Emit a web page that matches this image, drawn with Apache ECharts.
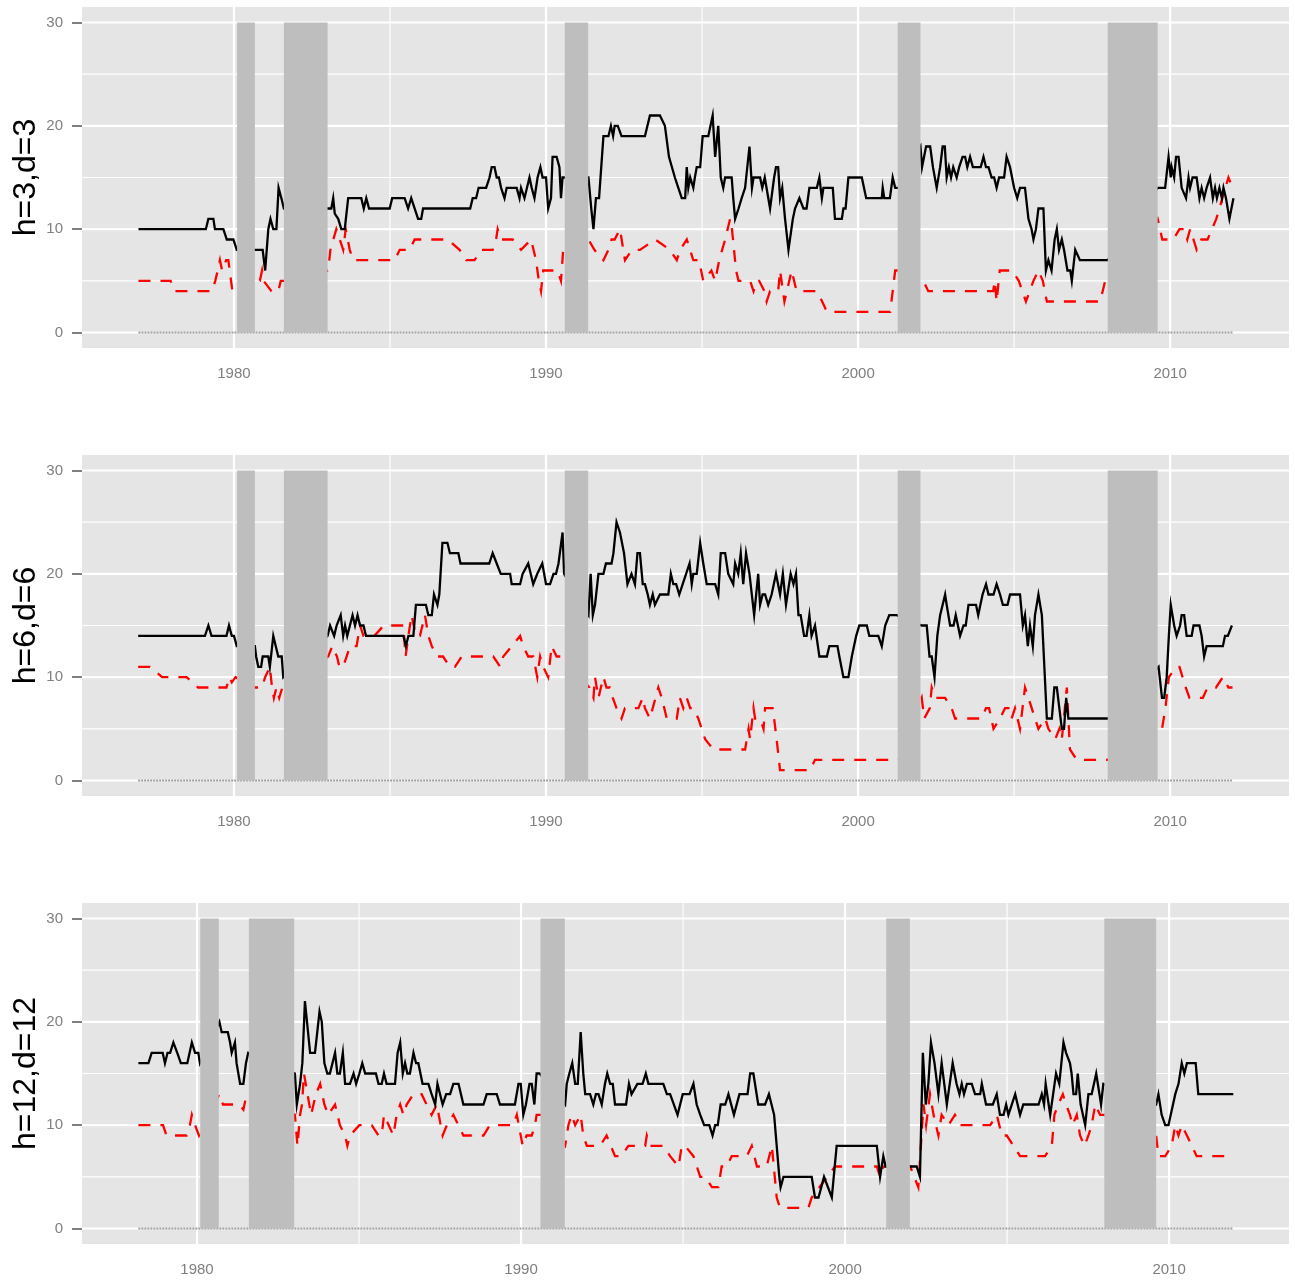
<!DOCTYPE html>
<html>
<head>
<meta charset="utf-8">
<script src="https://cdn.jsdelivr.net/npm/echarts@6/dist/echarts.min.js"></script>
<style>html,body{margin:0;padding:0;background:#fff}#c{width:1295px;height:1281px}</style>
</head>
<body>
<div id="c"></div>
<script>
// ---------- data ----------
const panelNames = ['h=3,d=3', 'h=6,d=6', 'h=12,d=12'];
const yTicks = [0, 10, 20, 30];
const yMinor = [5, 15, 25];
const xTicks = [1980, 1990, 2000, 2010];
const xMinor = [1985, 1995, 2005];
const recStart = [1980.1, 1981.6, 1990.6, 2001.27, 2008.0];
const recEnd = [1980.67, 1983.0, 1991.35, 2002.0, 2009.6];
const recTop = 30, recBottom = 0;

const h3Black = [[1976.94,10],[1979.1,10],[1979.18,11],[1979.34,11],[1979.39,10],[1979.66,10],[1979.77,9],[1979.98,9],[1980.09,8],[1980.67,8],[1980.92,8],[1981.0,6],[1981.1,10],[1981.17,11],[1981.26,10],[1981.36,10],[1981.43,14],[1981.52,13],[1981.6,12],[1983.02,12],[1983.12,12],[1983.18,13],[1983.23,11.5],[1983.34,11],[1983.44,10],[1983.55,10],[1983.66,13],[1984.08,13],[1984.16,12],[1984.24,13],[1984.33,12],[1984.99,12],[1985.07,13],[1985.47,13],[1985.58,12],[1985.68,13],[1985.9,11],[1986.0,11],[1986.06,12],[1987.57,12],[1987.65,13],[1987.76,13],[1987.84,14],[1988.08,14],[1988.19,15],[1988.26,16],[1988.35,16],[1988.42,15],[1988.49,15],[1988.56,14],[1988.67,13],[1988.74,14],[1989.06,14],[1989.15,13],[1989.2,14],[1989.31,13],[1989.39,14],[1989.47,15],[1989.54,14],[1989.63,13],[1989.73,15],[1989.82,16],[1989.89,15],[1990.0,15],[1990.07,12],[1990.16,13],[1990.21,17],[1990.34,17],[1990.43,16],[1990.48,13],[1990.53,15],[1990.6,15],[1991.36,15],[1991.4,15],[1991.45,12],[1991.52,10],[1991.6,13],[1991.7,13],[1991.84,19],[1992.0,19],[1992.08,20],[1992.15,19],[1992.2,20],[1992.3,20],[1992.42,19],[1993.17,19],[1993.33,21],[1993.65,21],[1993.81,20],[1993.94,17],[1994.13,15],[1994.24,14],[1994.35,13],[1994.46,13],[1994.51,16],[1994.56,14],[1994.62,15],[1994.72,14],[1994.77,15],[1994.83,16],[1994.94,16],[1995.02,19],[1995.2,19],[1995.34,21],[1995.42,17],[1995.52,20],[1995.6,15],[1995.68,14],[1995.74,15],[1995.95,15],[1996.0,13],[1996.06,11],[1996.17,12],[1996.27,13],[1996.38,14],[1996.52,18],[1996.6,14],[1996.65,15],[1996.86,15],[1996.93,14],[1997.01,15],[1997.18,12],[1997.31,15],[1997.37,16],[1997.44,16],[1997.5,13],[1997.57,14],[1997.66,11],[1997.77,8],[1997.91,11],[1997.98,12],[1998.03,12],[1998.12,13],[1998.25,12],[1998.35,12],[1998.44,14],[1998.68,14],[1998.76,15],[1998.84,13],[1998.89,14],[1999.19,14],[1999.26,11],[1999.48,11],[1999.53,12],[1999.6,12],[1999.69,15],[2000.12,15],[2000.26,13],[2000.76,13],[2000.79,14],[2000.84,13],[2001.02,13],[2001.11,15],[2001.19,14],[2001.3,14],[2002.0,18],[2002.05,16],[2002.18,18],[2002.31,18],[2002.4,16],[2002.52,14],[2002.63,16],[2002.71,18],[2002.78,18],[2002.84,15],[2002.91,16],[2002.98,15],[2003.05,16],[2003.16,15],[2003.24,16],[2003.35,17],[2003.43,17],[2003.5,16],[2003.59,17],[2003.68,16],[2003.93,16],[2004.02,17],[2004.1,16],[2004.18,16],[2004.28,15],[2004.36,15],[2004.44,14],[2004.52,15],[2004.68,15],[2004.76,17],[2004.87,16],[2004.92,16],[2005.0,14],[2005.1,13],[2005.19,14],[2005.35,14],[2005.46,11],[2005.56,10],[2005.62,9],[2005.7,10],[2005.78,12],[2005.94,12],[2006.02,6],[2006.1,7],[2006.2,6],[2006.3,9],[2006.37,10],[2006.44,8],[2006.53,9],[2006.6,8],[2006.71,6],[2006.8,6],[2006.85,5],[2006.96,8],[2007.0,8],[2007.11,7],[2008.0,7],[2009.6,14],[2009.84,14],[2009.95,17],[2010.02,15],[2010.05,16],[2010.13,15],[2010.19,17],[2010.27,17],[2010.37,14],[2010.43,14],[2010.51,13],[2010.59,15],[2010.64,14],[2010.72,15],[2010.85,15],[2010.94,13],[2011.01,14],[2011.09,13],[2011.17,14],[2011.28,15],[2011.37,13],[2011.44,14],[2011.5,13],[2011.58,14],[2011.66,13],[2011.71,14],[2011.79,13],[2011.9,11],[2012.03,13]];

const h3Red = [[1976.94,5],[1977.97,5],[1978.1,4],[1979.3,4],[1979.4,5],[1979.48,6],[1979.55,7],[1979.62,6],[1979.75,7],[1979.82,7],[1979.95,4],[1980.1,4],[1980.67,5],[1980.83,5],[1980.9,6],[1980.95,5],[1981.0,5],[1981.2,4],[1981.42,4],[1981.5,5],[1981.6,5],[1983.02,6],[1983.09,8],[1983.28,10],[1983.39,9],[1983.5,8],[1983.58,10],[1983.71,8],[1983.82,7],[1984.03,7],[1984.46,7],[1984.62,7],[1984.72,7],[1984.94,7],[1985.15,7],[1985.31,8],[1985.63,8],[1985.79,9],[1986.85,9],[1987.23,8],[1987.44,7],[1987.71,7],[1987.92,8],[1988.29,8],[1988.4,9],[1988.45,10],[1988.55,9],[1988.93,9],[1989.2,8],[1989.52,9],[1989.68,7],[1989.77,5],[1989.84,4],[1989.91,6],[1990.26,6],[1990.37,6],[1990.48,5],[1990.55,8],[1990.65,8],[1991.36,9],[1991.4,9],[1991.55,8],[1991.84,7],[1992.0,8],[1992.1,9],[1992.2,9],[1992.37,10],[1992.53,7],[1992.75,8],[1993.01,8],[1993.5,9],[1993.97,8],[1994.19,7],[1994.3,8],[1994.51,9],[1994.72,7],[1994.9,7],[1995.04,5],[1995.3,6],[1995.42,5],[1995.55,7],[1995.74,9],[1995.9,11],[1995.96,10],[1996.09,6],[1996.17,5],[1996.54,5],[1996.65,4],[1996.75,5],[1996.83,5],[1997.0,4],[1997.07,3],[1997.18,4],[1997.44,4],[1997.5,6],[1997.64,3],[1997.72,4],[1997.87,6],[1997.95,5],[1998.03,4],[1998.68,4],[1998.85,3],[1999.0,2],[2001.03,2],[2001.19,6],[2001.3,6],[2002.0,5],[2002.09,5],[2002.25,4],[2004.33,4],[2004.38,5],[2004.44,3],[2004.54,6],[2004.7,6],[2004.94,6],[2005.15,5],[2005.38,3],[2005.62,5],[2005.78,6],[2005.92,5],[2006.05,3],[2007.76,3],[2007.92,5],[2008.0,5],[2009.6,11],[2009.63,11],[2009.75,9],[2010.1,9],[2010.3,10],[2010.45,10],[2010.55,9],[2010.64,10],[2010.75,9],[2010.85,8],[2011.0,9],[2011.2,9],[2011.34,10],[2011.48,11],[2011.58,12],[2011.77,14],[2011.87,15],[2012.0,14]];

const h6Black = [[1976.93,14],[1979.07,14],[1979.18,15],[1979.28,14],[1979.76,14],[1979.84,15],[1979.93,14],[1980.0,14],[1980.09,13],[1980.67,13],[1980.71,12],[1980.78,11],[1980.87,11],[1980.92,12],[1981.1,12],[1981.15,11],[1981.26,14],[1981.34,13],[1981.42,12],[1981.53,12],[1981.58,10],[1983.0,14],[1983.08,15],[1983.13,15],[1983.21,14],[1983.29,15],[1983.42,16],[1983.5,14],[1983.56,15],[1983.63,14],[1983.8,16],[1983.88,15],[1983.96,16],[1984.04,15],[1984.15,15],[1984.23,14],[1985.43,14],[1985.51,13],[1985.59,14],[1985.75,14],[1985.83,17],[1986.15,17],[1986.23,16],[1986.34,16],[1986.41,18],[1986.47,18],[1986.52,17],[1986.58,18],[1986.68,23],[1986.84,23],[1986.92,22],[1987.19,22],[1987.26,21],[1988.18,21],[1988.29,22],[1988.42,21],[1988.55,20],[1988.85,20],[1988.9,19],[1989.17,19],[1989.25,20],[1989.43,21],[1989.49,21],[1989.59,19],[1989.72,20],[1989.88,21],[1989.91,21],[1990.0,19],[1990.13,19],[1990.24,20],[1990.32,20],[1990.4,21],[1990.53,24],[1990.58,20],[1991.36,16],[1991.43,20],[1991.5,16],[1991.57,17],[1991.68,20],[1991.84,20],[1991.92,21],[1992.1,21],[1992.16,22],[1992.26,25],[1992.37,24],[1992.5,22],[1992.61,19],[1992.67,19],[1992.74,20],[1992.85,19],[1992.93,22],[1993.01,22],[1993.1,19],[1993.17,19],[1993.26,18],[1993.33,17],[1993.42,18],[1993.49,17],[1993.55,17],[1993.65,18],[1993.92,18],[1994.0,20],[1994.08,19],[1994.17,19],[1994.27,18],[1994.38,19],[1994.6,21],[1994.67,19],[1994.72,20],[1994.83,20],[1994.94,23],[1995.04,21],[1995.15,19],[1995.42,19],[1995.52,18],[1995.6,22],[1995.74,22],[1995.84,20],[1995.9,20],[1996.0,19],[1996.06,21],[1996.16,20],[1996.24,22],[1996.32,19],[1996.41,22],[1996.52,20],[1996.67,16],[1996.8,20],[1996.86,17],[1996.94,18],[1997.02,18],[1997.12,17],[1997.18,17],[1997.23,18],[1997.37,20],[1997.5,18],[1997.59,20],[1997.69,17],[1997.84,20],[1997.93,19],[1998.01,20],[1998.09,16],[1998.16,16],[1998.27,14],[1998.35,14],[1998.44,16],[1998.51,14],[1998.62,15],[1998.76,12],[1999.0,12],[1999.08,13],[1999.34,13],[1999.4,12],[1999.53,10],[1999.69,10],[1999.8,12],[1999.94,14],[2000.04,15],[2000.28,15],[2000.36,14],[2000.65,14],[2000.76,13],[2000.87,15],[2001.0,16],[2001.24,16],[2002.04,15],[2002.2,15],[2002.29,12],[2002.36,12],[2002.45,10],[2002.54,14],[2002.63,16],[2002.68,16],[2002.79,18],[2002.84,17],[2002.95,15],[2003.06,15],[2003.13,16],[2003.27,14],[2003.38,15],[2003.45,15],[2003.54,17],[2003.78,17],[2003.85,16],[2003.99,18],[2004.1,19],[2004.18,18],[2004.34,18],[2004.44,19],[2004.55,18],[2004.64,17],[2004.79,17],[2004.87,18],[2005.19,18],[2005.28,15],[2005.35,16],[2005.44,13],[2005.51,15],[2005.6,13],[2005.67,16],[2005.78,18],[2005.89,16],[2006.05,6],[2006.21,6],[2006.29,9],[2006.37,9],[2006.45,7],[2006.53,5],[2006.6,5],[2006.67,8],[2006.74,6],[2008.02,6],[2009.63,11],[2009.74,8],[2009.81,8],[2009.89,10],[2009.96,14],[2010.02,17],[2010.13,15],[2010.21,14],[2010.32,15],[2010.37,16],[2010.45,16],[2010.53,14],[2010.69,14],[2010.75,15],[2010.94,15],[2011.01,14],[2011.09,12],[2011.17,13],[2011.69,13],[2011.76,14],[2011.85,14],[2011.98,15]];

const h6Red = [[1976.93,11],[1977.31,11],[1977.7,10],[1978.48,10],[1978.85,9],[1979.76,9],[1979.85,10],[1979.93,9.5],[1980.05,10],[1980.67,9],[1980.89,9],[1981.0,10],[1981.15,11],[1981.22,9],[1981.28,8],[1981.36,9],[1981.45,8],[1981.55,9],[1983.02,12],[1983.15,13],[1983.3,12],[1983.38,11],[1983.5,11],[1983.72,13],[1983.93,13],[1984.04,15],[1984.15,14],[1984.5,14],[1984.8,15],[1985.43,15],[1985.5,12],[1985.59,14],[1985.69,16],[1985.83,14],[1985.96,14],[1986.12,16],[1986.23,14],[1986.34,13],[1986.5,12],[1986.7,12],[1986.92,11],[1987.08,11],[1987.3,12],[1988.31,12],[1988.53,11],[1988.63,12],[1988.9,13],[1989.17,14],[1989.27,13],[1989.43,12],[1989.59,12],[1989.72,10],[1989.81,12],[1989.91,11],[1990.07,10],[1990.18,13],[1990.34,12],[1990.56,12],[1991.39,9],[1991.52,8],[1991.57,10],[1991.68,8],[1991.84,10],[1991.94,9],[1992.05,9],[1992.14,8],[1992.26,7],[1992.42,6],[1992.53,7],[1992.96,7],[1993.1,8],[1993.17,7],[1993.33,6],[1993.39,6],[1993.6,9],[1993.71,8],[1993.87,6],[1994.19,6],[1994.29,8],[1994.4,7],[1994.51,8],[1994.62,7],[1994.72,7],[1994.88,6],[1994.99,5],[1995.1,4],[1995.36,3],[1996.38,3],[1996.49,5],[1996.54,4],[1996.65,7],[1996.7,6],[1996.86,6],[1996.97,5],[1997.02,7],[1997.26,7],[1997.31,6],[1997.39,4],[1997.5,1],[1998.46,1],[1998.62,2],[2001.13,2],[2001.3,2],[2002.04,8],[2002.12,6],[2002.3,7],[2002.36,9],[2002.47,8],[2002.79,8],[2003.0,7],[2003.11,6],[2003.96,6],[2004.1,7],[2004.2,7],[2004.34,5],[2004.55,6],[2004.71,7],[2004.82,7],[2004.92,6],[2005.03,7],[2005.19,5],[2005.35,9],[2005.46,8],[2005.67,6],[2005.78,5],[2006.0,6],[2006.1,5],[2006.32,4],[2006.45,5],[2006.53,4],[2006.69,9],[2006.79,3],[2007.01,2],[2008.0,2],[2009.6,5],[2009.74,5],[2009.85,7],[2009.96,10],[2010.19,11],[2010.3,11],[2010.5,9],[2010.62,8],[2011.05,8],[2011.2,9],[2011.47,9],[2011.69,10],[2011.87,9],[2012.0,9]];

const h12Black = [[1978.19,16],[1978.5,16],[1978.6,17],[1978.94,17],[1979.01,16],[1979.09,17],[1979.17,17],[1979.27,18],[1979.32,18],[1979.39,17],[1979.5,16],[1979.7,16],[1979.84,18],[1979.94,17],[1980.04,17],[1980.09,16],[1980.69,20],[1980.76,19],[1980.95,19],[1981.02,18],[1981.07,17],[1981.17,18],[1981.22,16],[1981.33,14],[1981.43,14],[1981.51,16],[1981.58,17],[1983.02,15],[1983.08,12],[1983.18,14],[1983.25,16],[1983.33,22],[1983.49,17],[1983.64,17],[1983.78,21],[1983.85,20],[1983.93,16],[1984.02,15],[1984.1,15],[1984.26,17],[1984.33,15],[1984.41,15],[1984.5,17],[1984.57,14],[1984.72,14],[1984.83,15],[1984.91,14],[1985.01,15],[1985.1,16],[1985.19,15],[1985.52,15],[1985.6,14],[1985.7,14],[1985.77,15],[1985.85,14],[1986.11,14],[1986.19,17],[1986.27,18],[1986.35,15],[1986.42,16],[1986.49,15],[1986.57,15],[1986.68,17],[1986.76,16],[1986.83,16],[1986.96,14],[1987.14,14],[1987.24,13],[1987.35,12],[1987.42,14],[1987.5,13],[1987.58,12],[1987.69,13],[1987.81,13],[1987.91,14],[1988.07,14],[1988.22,12],[1988.84,12],[1988.94,13],[1989.25,13],[1989.35,12],[1989.81,12],[1989.92,14],[1989.99,14],[1990.07,11],[1990.15,12],[1990.26,14],[1990.33,14],[1990.41,12],[1990.48,15],[1990.57,15],[1991.36,12],[1991.41,14],[1991.49,15],[1991.58,16],[1991.67,14],[1991.75,14],[1991.84,19],[1991.92,15],[1991.98,13],[1992.13,13],[1992.23,12],[1992.31,13],[1992.39,13],[1992.49,12],[1992.59,14],[1992.66,15],[1992.75,14],[1992.83,14],[1992.9,12],[1993.24,12],[1993.33,14],[1993.41,13],[1993.47,13],[1993.59,14],[1993.75,14],[1993.85,15],[1993.93,14],[1994.39,14],[1994.5,13],[1994.6,13],[1994.83,11],[1994.99,13],[1995.2,13],[1995.32,14],[1995.42,12],[1995.53,11],[1995.65,10],[1995.81,10],[1995.91,9],[1995.99,10],[1996.07,10],[1996.16,12],[1996.3,12],[1996.4,13],[1996.57,11],[1996.74,13],[1996.99,13],[1997.07,15],[1997.17,15],[1997.32,12],[1997.53,12],[1997.65,13],[1997.81,11],[1997.97,5],[1998.01,4],[1998.1,5],[1998.97,5],[1999.07,3],[1999.18,3],[1999.35,5],[1999.59,3],[1999.74,8],[2000.98,8],[2001.08,5],[2001.18,7],[2001.25,6],[2002.01,6],[2002.21,6],[2002.31,5],[2002.4,17],[2002.49,12],[2002.57,14],[2002.65,18],[2002.76,16],[2002.88,13],[2002.98,16],[2003.14,12],[2003.32,16],[2003.44,14],[2003.53,13],[2003.6,14],[2003.67,13],[2003.76,14],[2003.91,14],[2004.01,13],[2004.17,13],[2004.22,14],[2004.35,12],[2004.56,12],[2004.68,13],[2004.78,11],[2004.89,11],[2004.97,12],[2005.04,11],[2005.25,13],[2005.4,11],[2005.5,12],[2005.97,12],[2006.07,13],[2006.14,12],[2006.19,14],[2006.33,11],[2006.51,15],[2006.61,14],[2006.74,18],[2006.82,17],[2006.94,16],[2006.99,15],[2007.05,13],[2007.13,13],[2007.18,15],[2007.27,12],[2007.41,10],[2007.51,13],[2007.61,13],[2007.75,15],[2007.9,12],[2007.97,14],[2009.6,12],[2009.67,13],[2009.77,11],[2009.88,10],[2009.98,10],[2010.12,12],[2010.19,13],[2010.29,14],[2010.39,16],[2010.47,15],[2010.55,16],[2010.82,16],[2010.9,13],[2011.98,13]];

const h12Red = [[1978.19,10],[1978.55,10],[1978.95,10],[1979.06,9],[1979.68,9],[1979.78,10],[1979.84,11],[1979.94,10],[1980.06,9],[1980.69,13],[1980.8,12],[1981.07,12],[1981.3,12],[1981.43,11.5],[1981.53,13],[1983.02,11],[1983.1,8],[1983.18,11],[1983.24,12],[1983.3,15],[1983.41,13],[1983.52,11],[1983.67,13],[1983.8,14],[1983.93,12],[1984.05,11],[1984.26,12],[1984.41,10],[1984.57,9],[1984.64,8],[1984.72,9],[1985.01,10],[1985.39,10],[1985.6,9],[1985.7,9],[1985.77,11],[1986.06,9],[1986.16,11],[1986.27,12],[1986.37,11],[1986.47,12],[1986.68,13],[1986.93,13],[1987.24,11],[1987.4,12],[1987.58,9],[1987.71,10],[1987.91,11],[1988.22,9],[1988.84,9],[1989.04,10],[1989.76,10],[1989.87,11],[1990.05,8],[1990.17,9],[1990.33,9],[1990.43,10],[1990.48,11],[1990.6,11],[1991.36,8],[1991.46,10],[1991.56,11],[1991.67,10],[1991.84,11],[1991.92,9],[1992.03,8],[1992.44,8],[1992.64,9],[1992.9,7],[1993.1,7],[1993.31,8],[1993.83,8],[1993.88,9],[1993.98,8],[1994.39,8],[1994.6,7],[1994.86,6],[1994.96,8],[1995.06,8],[1995.32,7],[1995.53,5],[1995.68,5],[1995.89,4],[1996.09,4],[1996.19,6],[1996.35,6],[1996.5,7],[1996.97,7],[1997.12,8],[1997.28,6],[1997.58,6],[1997.74,8],[1997.89,3],[1997.99,2],[1998.87,2],[1998.97,3],[1999.69,6],[2000.98,6],[2001.08,5],[2001.18,6],[2001.3,6],[2002.01,6],[2002.26,4],[2002.42,12],[2002.5,10],[2002.62,13],[2002.73,11],[2002.88,9],[2002.98,11],[2003.19,10],[2003.39,11],[2003.55,10],[2004.48,10],[2004.68,11],[2004.84,9],[2004.99,9],[2005.2,8],[2005.4,7],[2006.17,7],[2006.38,8],[2006.46,11],[2006.58,12],[2006.72,13],[2006.82,12],[2006.94,11],[2007.02,10],[2007.15,11],[2007.25,9],[2007.39,8],[2007.51,9],[2007.61,10],[2007.72,12],[2007.87,11],[2008.0,11],[2009.6,9],[2009.67,7],[2009.88,7],[2010.08,8],[2010.19,10],[2010.29,9],[2010.39,10],[2010.55,9],[2010.7,8],[2010.85,7],[2011.98,7]];

const blackSeries = [h3Black, h6Black, h12Black];
const redSeries = [h3Red, h6Red, h12Red];
const xMin = [1975.13, 1975.13, 1976.45];
const xMax = [2013.81, 2013.81, 2013.70];
const yMin = -1.5, yMax = 31.5;

// ---------- chart ----------
const FONT = 'Liberation Sans, Arial, Helvetica, sans-serif';
const chart = echarts.init(document.getElementById('c'), null, {renderer: 'canvas'});

const grids = [], xAxes = [], yAxes = [], series = [];
const panelTops = [7, 455, 903];

function gridLineRender(params, api) {
  const cs = params.coordSys;
  const dir = api.value(0), v = api.value(1), major = api.value(2);
  let shape;
  if (dir === 0) {
    const x = api.coord([v, 0])[0];
    shape = {x1: x, y1: cs.y, x2: x, y2: cs.y + cs.height};
  } else {
    const y = api.coord([cs.x, v])[1];
    shape = {x1: cs.x, y1: y, x2: cs.x + cs.width, y2: y};
  }
  return {type: 'line', shape: shape, style: {stroke: '#FFFFFF', lineWidth: major ? 2.2 : 1.1}};
}

function recRender(params, api) {
  const p0 = api.coord([api.value(0), recTop]);
  const p1 = api.coord([api.value(1), recBottom]);
  return {type: 'rect', shape: {x: p0[0], y: p0[1], width: p1[0] - p0[0], height: p1[1] - p0[1]},
          style: {fill: '#BEBEBE'}};
}

for (let i = 0; i < 3; i++) {
  grids.push({left: 82, top: panelTops[i], width: 1207, height: 341, show: true,
              backgroundColor: '#E5E5E5', borderWidth: 0, containLabel: false, outerBoundsMode: 'none'});
  xAxes.push({type: 'value', gridIndex: i, min: xMin[i], max: xMax[i],
    axisLine: {show: false}, splitLine: {show: false},
    axisTick: {show: true, customValues: xTicks, length: 10, lineStyle: {color: '#7F7F7F', width: 2}},
    axisLabel: {customValues: xTicks, color: '#7F7F7F', fontSize: 15, fontFamily: FONT, margin: 18,
                formatter: v => String(v)}});
  yAxes.push({type: 'value', gridIndex: i, min: yMin, max: yMax,
    name: panelNames[i], nameLocation: 'middle', nameRotate: 90, nameGap: 40, nameMoveOverlap: false,
    nameTextStyle: {fontSize: 32, color: '#000000', fontFamily: FONT},
    axisLine: {show: false}, splitLine: {show: false},
    axisTick: {show: true, customValues: yTicks, length: 10, lineStyle: {color: '#7F7F7F', width: 2}},
    axisLabel: {customValues: yTicks, color: '#7F7F7F', fontSize: 15, fontFamily: FONT, margin: 19}});

  const gl = [];
  xMinor.forEach(v => gl.push([0, v, 0]));
  yMinor.forEach(v => gl.push([1, v, 0]));
  xTicks.forEach(v => gl.push([0, v, 1]));
  yTicks.forEach(v => gl.push([1, v, 1]));
  series.push({type: 'custom', xAxisIndex: i, yAxisIndex: i, z: 1, silent: true, clip: false,
               renderItem: gridLineRender, data: gl});

  const b = blackSeries[i], r = redSeries[i];
  series.push({type: 'line', xAxisIndex: i, yAxisIndex: i, z: 2, silent: true, showSymbol: false, symbol: 'none',
               data: [[b[0][0], 0], [b[b.length - 1][0], 0]],
               lineStyle: {color: '#9C9C9C', width: 2, type: [2, 1], cap: 'butt'}});
  series.push({type: 'line', xAxisIndex: i, yAxisIndex: i, z: 3, silent: true, showSymbol: false, symbol: 'none',
               data: r, lineStyle: {color: '#FF0000', width: 2.3, type: [12, 10], cap: 'butt', join: 'miter'}});
  series.push({type: 'line', xAxisIndex: i, yAxisIndex: i, z: 4, silent: true, showSymbol: false, symbol: 'none',
               data: b, lineStyle: {color: '#000000', width: 2.3, join: 'miter'}});
  series.push({type: 'custom', xAxisIndex: i, yAxisIndex: i, z: 5, silent: true, clip: true,
               renderItem: recRender, data: recStart.map((s, k) => [s, recEnd[k]])});
}

chart.setOption({animation: false, backgroundColor: '#FFFFFF', grid: grids, xAxis: xAxes, yAxis: yAxes, series: series});
</script>
</body>
</html>
